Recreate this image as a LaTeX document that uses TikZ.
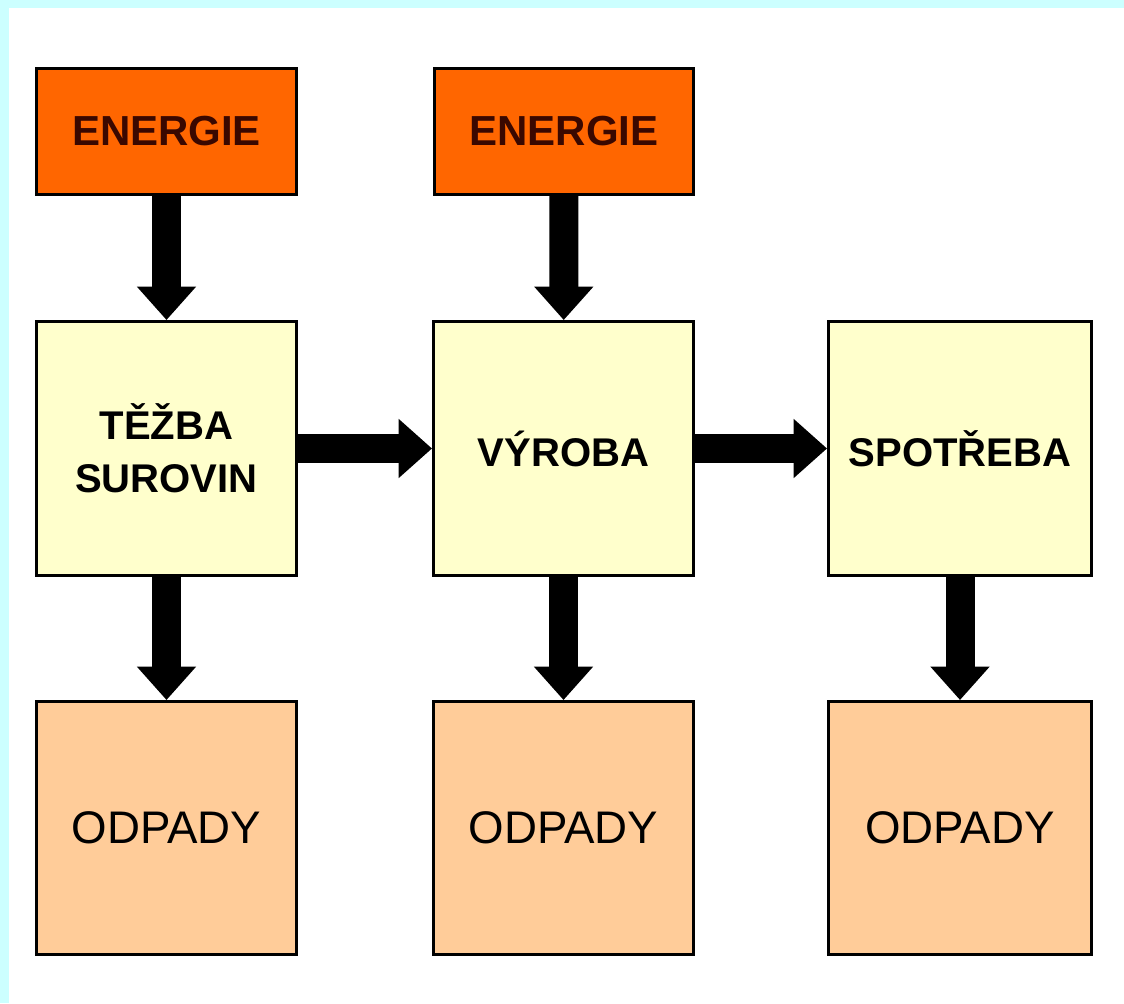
\documentclass[tikz,border=0pt]{standalone}
\usepackage{fontspec}
\setmainfont{Liberation Sans}
\usetikzlibrary{arrows.meta}
\definecolor{framecyan}{HTML}{CCFFFF}
\definecolor{energyorange}{HTML}{FF6600}
\definecolor{energytext}{HTML}{3A0800}
\definecolor{stageyellow}{HTML}{FFFFCC}
\definecolor{wastepeach}{HTML}{FFCC99}

\begin{document}
\begin{tikzpicture}[x=0.02cm, y=-0.02cm,
        box/.style={draw=black, line width=1.7pt, inner sep=0pt, minimum width=5.2cm},
        energybox/.style={box, fill=energyorange, text=energytext, minimum height=2.52cm,
            font=\fontsize{23.9}{28}\selectfont\bfseries},
        stagebox/.style={box, fill=stageyellow, minimum height=5.08cm, align=center,
            font=\fontsize{22.8}{30}\selectfont\bfseries},
        wastebox/.style={box, fill=wastepeach, minimum height=5.06cm,
            font=\fontsize{26}{30}\selectfont},
        flow/.style={line width=16.5pt, -{Triangle[width=32.5pt, length=19pt]}}]

        % Background with cyan frame on top and left
        \fill[framecyan] (0,0) rectangle (1124,1003);
        \fill[white] (9,8) rectangle (1124,1003);

        % Energy inputs
        \node[energybox] (energy1) at (166.5,131.5) {ENERGIE};
        \node[energybox] (energy2) at (564,131.5) {ENERGIE};

        % Stages
        \node[stagebox] (tezba) at (166.5,448.5) {TĚŽBA\\SUROVIN};
        \node[stagebox] (vyroba) at (563.5,448.5) {VÝROBA};
        \node[stagebox, minimum width=5.26cm] (spotreba) at (960,448.5) {SPOTŘEBA};

        % Waste
        \node[wastebox] (odpady1) at (166.5,828) {ODPADY};
        \node[wastebox] (odpady2) at (563.5,828) {ODPADY};
        \node[wastebox, minimum width=5.26cm] (odpady3) at (960,828) {ODPADY};

        % Energy into stages
        \draw[flow] (energy1) -- (tezba);
        \draw[flow] (energy2) -- (vyroba);

        % Stage to stage
        \draw[flow] (tezba) -- (vyroba);
        \draw[flow] (vyroba) -- (spotreba);

        % Stages to waste
        \draw[flow] (tezba) -- (odpady1);
        \draw[flow] (vyroba) -- (odpady2);
        \draw[flow] (spotreba) -- (odpady3);
    \end{tikzpicture}
\end{document}
